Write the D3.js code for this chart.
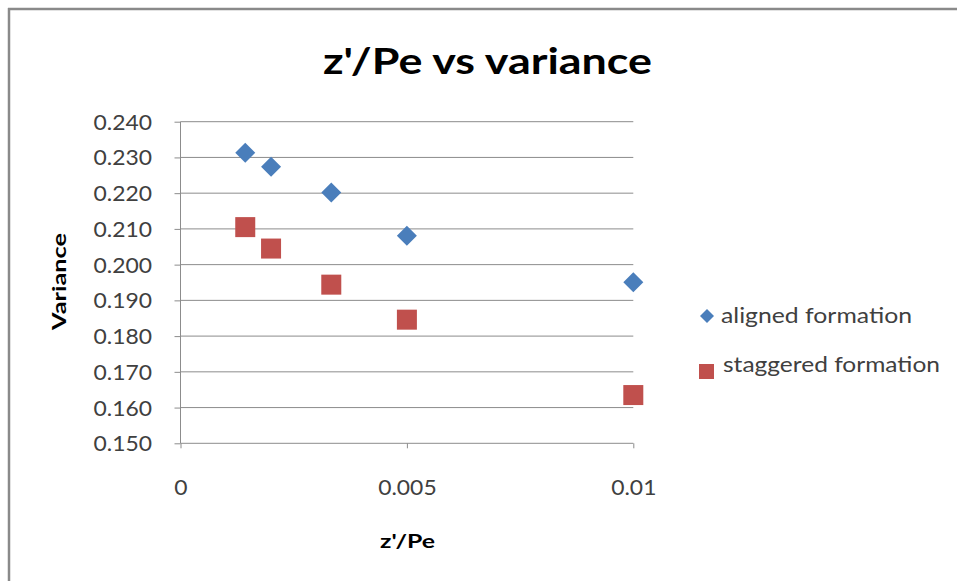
<!DOCTYPE html>
<html>
<head>
<meta charset="utf-8">
<script src="https://cdn.jsdelivr.net/npm/d3@7"></script>
<style>
  html, body { margin: 0; padding: 0; background: #fff; }
  svg { display: block; }
</style>
</head>
<body>
<svg id="chart" width="957" height="581"></svg>
<script>
// ---- data ----
const zPe = [0.00143, 0.002, 0.00333, 0.005, 0.01];
const alignedVariance = [0.2313, 0.2274, 0.2202, 0.2081, 0.1951];
const staggeredVariance = [0.2105, 0.2045, 0.1944, 0.1846, 0.1635];
const seriesNames = ["aligned formation", "staggered formation"];
const yTicks = [0.150, 0.160, 0.170, 0.180, 0.190, 0.200, 0.210, 0.220, 0.230, 0.240];
const xTicks = [0, 0.005, 0.01];
const xTickLabels = ["0", "0.005", "0.01"];
const titleText = "z'/Pe vs variance";
const xTitle = "z'/Pe";
const yTitle = "Variance";

const svg = d3.select("#chart");
const font = "Lato, 'Open Sans', sans-serif";
const blue = "#4A7EBB";
const red = "#C0504D";
const gridColor = "#8C8C8C";
const textColor = "#404040";

// horizontally stretch text to a target width (reference glyphs are wider)
function stretch(sel, k) {
  sel.each(function () {
    const w = this.getComputedTextLength();
    d3.select(this).attr("textLength", w * k).attr("lengthAdjust", "spacingAndGlyphs");
  });
}
function fitWidth(sel, w) {
  sel.attr("textLength", w).attr("lengthAdjust", "spacingAndGlyphs");
}

// outer frame (top and left edges visible)
svg.append("rect").attr("x", 0).attr("y", 0).attr("width", 957).attr("height", 581).attr("fill", "#fff");
svg.append("line").attr("x1", 8).attr("x2", 957).attr("y1", 9).attr("y2", 9)
  .attr("stroke", "#8a8a8a").attr("stroke-width", 2.5);
svg.append("line").attr("x1", 9).attr("x2", 9).attr("y1", 8).attr("y2", 581)
  .attr("stroke", "#8a8a8a").attr("stroke-width", 2.5);

const x = d3.scaleLinear().domain([0, 0.01]).range([180.5, 633.3]);
const y = d3.scaleLinear().domain([0.150, 0.240]).range([443.3, 121.7]);

// gridlines
svg.append("g").selectAll("line").data(yTicks.slice(1)).join("line")
  .attr("x1", x(0)).attr("x2", x(0.01))
  .attr("y1", d => y(d)).attr("y2", d => y(d))
  .attr("stroke", gridColor).attr("stroke-width", 1);

// y axis
const yAxis = d3.axisLeft(y).tickValues(yTicks).tickFormat(d3.format(".3f")).tickSize(6).tickPadding(22.5);
const gy = svg.append("g").attr("transform", `translate(${x(0)},0)`).call(yAxis);
gy.select(".domain").attr("stroke", gridColor).attr("d", `M0,${y(0.240)}V${y(0.150)}`);
gy.selectAll(".tick line").attr("stroke", gridColor);
gy.selectAll(".tick text").attr("fill", textColor).attr("font-family", font).attr("font-size", 21).attr("dy", "0.36em");
stretch(gy.selectAll(".tick text"), 1.09);

// x axis
const xAxis = d3.axisBottom(x).tickValues(xTicks).tickFormat((d, i) => xTickLabels[i]).tickSize(5).tickPadding(0);
const gx = svg.append("g").attr("transform", `translate(0,${y(0.150)})`).call(xAxis);
gx.select(".domain").attr("stroke", gridColor).attr("d", `M${x(0)},0H${x(0.01)}`);
gx.selectAll(".tick line").attr("stroke", gridColor);
gx.selectAll(".tick text").attr("fill", textColor).attr("font-family", font).attr("font-size", 21)
  .attr("y", 495 - y(0.150)).attr("dy", 0);
stretch(gx.selectAll(".tick text"), 1.09);

// titles
fitWidth(svg.append("text").attr("x", 323).attr("y", 74.3)
  .attr("font-family", font).attr("font-weight", "bold").attr("font-size", 36).attr("fill", "#000")
  .text(titleText), 329);
fitWidth(svg.append("text").attr("x", 380).attr("y", 548.3)
  .attr("font-family", font).attr("font-weight", "bold").attr("font-size", 18.5).attr("fill", "#000")
  .text(xTitle), 55);
fitWidth(svg.append("text").attr("transform", `translate(66,330) rotate(-90)`)
  .attr("font-family", font).attr("font-weight", "bold").attr("font-size", 18).attr("fill", "#000")
  .text(yTitle), 97);

// markers
const diamond = s => `M0,${-s}L${s},0L0,${s}L${-s},0Z`;
svg.append("g").selectAll("path").data(zPe.map((v, i) => [v, alignedVariance[i]])).join("path")
  .attr("transform", d => `translate(${x(d[0])},${y(d[1])})`)
  .attr("d", diamond(10)).attr("fill", blue);
svg.append("g").selectAll("rect").data(zPe.map((v, i) => [v, staggeredVariance[i]])).join("rect")
  .attr("x", d => x(d[0]) - 10).attr("y", d => y(d[1]) - 10)
  .attr("width", 20).attr("height", 20).attr("fill", red);

// legend
const lg = svg.append("g");
lg.append("path").attr("transform", "translate(707,316)").attr("d", diamond(7)).attr("fill", blue);
fitWidth(lg.append("text").attr("x", 721).attr("y", 323).attr("font-family", font).attr("font-size", 21.5)
  .attr("fill", textColor).text(seriesNames[0]), 191);
lg.append("rect").attr("x", 699).attr("y", 364).attr("width", 15).attr("height", 15).attr("fill", red);
fitWidth(lg.append("text").attr("x", 723).attr("y", 372).attr("font-family", font).attr("font-size", 21.5)
  .attr("fill", textColor).text(seriesNames[1]), 217);
</script>
</body>
</html>
